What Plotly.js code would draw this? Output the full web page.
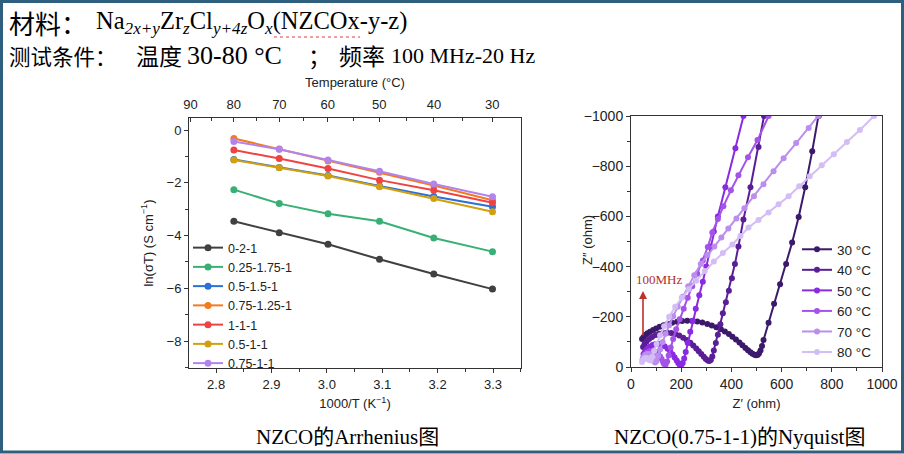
<!DOCTYPE html>
<html>
<head>
<meta charset="utf-8">
<script src="https://cdn.plot.ly/plotly-3.0.1.min.js"></script>
<style>
html,body{margin:0;padding:0;background:#fff;}
#chart{width:904px;height:454px;}
</style>
</head>
<body>
<div id="chart"></div>
<script>
// ---------- Arrhenius data ----------
const tempsC = [80, 70, 60, 50, 40, 30];
const invT = [2.832, 2.914, 3.002, 3.095, 3.193, 3.299];
const seriesNames = ['0-2-1', '0.25-1.75-1', '0.5-1.5-1', '0.75-1.25-1', '1-1-1', '0.5-1-1', '0.75-1-1'];
const ln_0_2_1 = [-3.46, -3.89, -4.33, -4.90, -5.46, -6.03];
const ln_025_175_1 = [-2.26, -2.79, -3.17, -3.46, -4.09, -4.61];
const ln_05_15_1 = [-1.12, -1.42, -1.72, -2.12, -2.52, -2.91];
const ln_075_125_1 = [-0.32, -0.72, -1.17, -1.60, -2.10, -2.66];
const ln_1_1_1 = [-0.76, -1.08, -1.46, -1.90, -2.28, -2.76];
const ln_05_1_1 = [-1.14, -1.43, -1.74, -2.15, -2.60, -3.10];
const ln_075_1_1 = [-0.44, -0.73, -1.14, -1.56, -2.05, -2.53];
const arrColors = ['#404040', '#38b075', '#2c6fd6', '#f47a20', '#ef4343', '#d2a00f', '#b383ec'];

// top axis tick labels (temperature)
const topTickTemps = [90, 80, 70, 60, 50, 40, 30];
const topMinorTemps = [85, 75, 65, 55, 45, 35];

// ---------- Nyquist data (0.75-1-1), Z' and Z'' in ohm ----------
const nyqNames = ['30 °C', '40 °C', '50 °C', '60 °C', '70 °C', '80 °C'];
const nyqColors = ['#3b1a6b', '#5a1e96', '#8a2be2', '#a453e8', '#bb8eee', '#d4bdf5'];
const zre30 = [44,50,58,66,76,88,100,114,130,146,164,184,204,224,244,264,284,304,322,340,358,374,390,404,418,432,444,456,466,476,484,492,498,504,510,516,522,528,548,570,594,618,642,668,694,722,748,752];
const zim30 = [-112,-120,-128,-134,-140,-147,-153,-160,-166,-171,-176,-180,-183,-184,-183,-181,-177,-171,-165,-158,-150,-141,-131,-121,-110,-98,-87,-76,-67,-59,-53,-49,-47,-48,-54,-66,-84,-108,-176,-252,-330,-410,-496,-598,-716,-860,-1000,-1030];
const zre40 = [48,54,62,72,84,98,112,128,144,160,176,192,208,222,236,248,260,270,280,290,298,306,312,318,324,330,338,346,356,366,378,390,402,414,428,448,476,508,530,534];
const zim40 = [-80,-92,-102,-112,-120,-127,-132,-135,-136,-135,-131,-125,-117,-108,-97,-86,-74,-63,-52,-41,-32,-26,-24,-28,-42,-66,-96,-128,-170,-214,-258,-304,-354,-410,-480,-588,-716,-876,-1000,-1030];
const zre50 = [50,56,64,74,86,98,110,122,134,146,156,166,174,182,188,194,200,206,212,218,226,236,246,258,272,286,300,316,330,346,376,416,448,456];
const zim50 = [-52,-62,-72,-81,-88,-92,-93,-90,-83,-73,-62,-50,-38,-26,-16,-9,-8,-16,-34,-60,-96,-140,-184,-232,-286,-340,-400,-480,-540,-600,-716,-872,-1000,-1030];
const zre60 = [50,56,64,74,86,98,108,116,122,128,132,138,144,150,158,168,180,194,210,226,244,264,286,306,324,346,368,398,428,466,504,548,558];
const zim60 = [-40,-50,-58,-63,-64,-60,-52,-42,-32,-20,-12,-10,-22,-46,-78,-112,-150,-190,-232,-276,-322,-372,-424,-478,-536,-590,-640,-704,-764,-836,-904,-1000,-1020];
const zre70 = [46,50,56,64,72,80,86,92,96,102,108,116,126,138,152,168,186,206,228,252,278,304,332,360,388,420,452,490,528,568,608,658,708,746,760];
const zim70 = [-30,-40,-48,-52,-52,-46,-36,-24,-18,-24,-44,-70,-100,-132,-166,-202,-240,-280,-322,-366,-410,-446,-480,-516,-552,-592,-632,-680,-728,-780,-832,-892,-952,-1000,-1018];
const zre80 = [44,48,54,60,66,72,78,84,92,102,116,132,152,176,202,230,260,294,330,366,404,436,468,508,548,588,628,670,712,760,808,860,912,968,990];
const zim80 = [-20,-28,-34,-36,-34,-28,-26,-40,-64,-92,-126,-162,-200,-240,-276,-310,-344,-382,-420,-454,-488,-522,-556,-586,-616,-648,-680,-720,-760,-804,-848,-896,-944,-1000,-1020];

const W = 904, H = 454;
const px = v => v / W;
const py = v => (H - v) / H;

const arrData = [ln_0_2_1, ln_025_175_1, ln_05_15_1, ln_075_125_1, ln_1_1_1, ln_05_1_1, ln_075_1_1];
const traces = [];
arrData.forEach((ys, i) => {
  traces.push({
    type: 'scatter', mode: 'lines+markers', x: invT, y: ys, name: seriesNames[i],
    xaxis: 'x', yaxis: 'y', legend: 'legend',
    line: {color: arrColors[i], width: 2},
    marker: {color: arrColors[i], size: 7}
  });
});
// invisible trace to activate top axis
traces.push({type: 'scatter', mode: 'markers', x: invT, y: ln_0_2_1, xaxis: 'x2', yaxis: 'y',
  showlegend: false, hoverinfo: 'skip', marker: {opacity: 0}});

const nyqRe = [zre30, zre40, zre50, zre60, zre70, zre80];
const nyqIm = [zim30, zim40, zim50, zim60, zim70, zim80];
nyqRe.forEach((xs, i) => {
  traces.push({
    type: 'scatter', mode: 'lines+markers', x: xs, y: nyqIm[i], name: nyqNames[i],
    xaxis: 'x3', yaxis: 'y3', legend: 'legend2',
    line: {color: nyqColors[i], width: 2},
    marker: {color: nyqColors[i], size: 6}
  });
});

const axFont = {family: 'Liberation Sans, Arial, sans-serif', size: 13, color: '#222'};
const xL = [2.751, 3.3505];
const domXL = [px(189), px(521)];
const domYL = [py(368), py(118)];
const domXR = [px(631), px(882)];
const domYR = [py(367), py(116)];

const serif = 'Liberation Serif, Noto Sans CJK SC, serif';
const cjk = 'Noto Sans CJK SC, sans-serif';
function txt(x, y, text, size, family, extra) {
  return Object.assign({xref: 'paper', yref: 'paper', x: px(x), y: py(y), xanchor: 'left', yanchor: 'middle',
    showarrow: false, text: text, font: {family: family, size: size, color: '#000'}}, extra || {});
}

const layout = {
  width: W, height: H,
  margin: {l: 0, r: 0, t: 0, b: 0},
  paper_bgcolor: '#ffffff', plot_bgcolor: '#ffffff',
  font: axFont,
  showlegend: true,
  xaxis: {
    domain: domXL, range: xL, anchor: 'y',
    tickvals: [2.8, 2.9, 3.0, 3.1, 3.2, 3.3], ticktext: ['2.8', '2.9', '3.0', '3.1', '3.2', '3.3'],
    ticks: 'outside', ticklen: 4, tickcolor: '#333', linecolor: '#333', linewidth: 1,
    showline: true, showgrid: false, zeroline: false,
    minor: {dtick: 0.05, tick0: 2.75, ticks: 'outside', ticklen: 3, tickcolor: '#333'},
    tickfont: {size: 13},
    title: {text: '1000/T (K<sup>−1</sup>)', font: {size: 13}, standoff: 8}
  },
  xaxis2: {
    overlaying: 'x', side: 'top', anchor: 'y', range: xL,
    tickmode: 'array',
    tickvals: topTickTemps.map(t => 1000 / (t + 273.15)),
    ticktext: topTickTemps.map(String),
    ticks: 'inside', ticklen: 4, tickcolor: '#333', linecolor: '#333', linewidth: 1,
    showline: true, showgrid: false, zeroline: false,
    minor: {tickmode: 'array', tickvals: topMinorTemps.map(t => 1000 / (t + 273.15)), ticks: 'inside', ticklen: 3, tickcolor: '#333'},
    tickfont: {size: 13}, ticklabelstandoff: 3,
    title: {text: 'Temperature (°C)', font: {size: 13}, standoff: 6}
  },
  yaxis: {
    domain: domYL, range: [-9.02, 0.455], anchor: 'x',
    tickvals: [-8, -6, -4, -2, 0],
    ticks: 'outside', ticklen: 4, tickcolor: '#333', linecolor: '#333', linewidth: 1,
    showline: true, mirror: true, showgrid: false, zeroline: false,
    minor: {dtick: 1, tick0: 0, ticks: 'outside', ticklen: 3, tickcolor: '#333'},
    tickfont: {size: 13},
    title: {text: 'ln(σT) (S cm<sup>−1</sup>)', font: {size: 13}, standoff: 10}
  },
  xaxis3: {
    domain: domXR, range: [0, 1000], anchor: 'y3',
    tickvals: [0, 200, 400, 600, 800, 1000],
    ticks: 'outside', ticklen: 4, tickcolor: '#333', linecolor: '#333', linewidth: 1,
    showline: true, mirror: true, showgrid: false, zeroline: false,
    minor: {dtick: 100, tick0: 0, ticks: 'outside', ticklen: 3, tickcolor: '#333'},
    tickfont: {size: 14},
    title: {text: 'Z′ (ohm)', font: {size: 13}, standoff: 8}
  },
  yaxis3: {
    domain: domYR, range: [0, -1000], anchor: 'x3',
    tickvals: [-1000, -800, -600, -400, -200, 0],
    ticks: 'outside', ticklen: 4, tickcolor: '#333', linecolor: '#333', linewidth: 1,
    showline: true, mirror: true, showgrid: false, zeroline: false,
    minor: {dtick: 100, tick0: 0, ticks: 'outside', ticklen: 3, tickcolor: '#333'},
    tickfont: {size: 14}
  },
  legend: {
    x: px(188), y: py(233), xanchor: 'left', yanchor: 'top',
    bgcolor: 'rgba(0,0,0,0)', font: {size: 12.5, color: '#222'},
    itemwidth: 30, tracegroupgap: 0
  },
  legend2: {
    x: px(797), y: py(234), xanchor: 'left', yanchor: 'top',
    bgcolor: 'rgba(0,0,0,0)', font: {size: 13.5, color: '#222'},
    itemwidth: 30, tracegroupgap: 0
  },
  annotations: [
    txt(7, 22, '材料：', 26, cjk),
    txt(94, 22, 'Na<sub><i>2x+y</i></sub>Zr<sub><i>z</i></sub>Cl<sub><i>y+4z</i></sub>O<sub><i>x</i></sub>(NZCOx-y-z)', 24.5, serif),
    txt(7, 55, '测试条件：', 21.5, cjk),
    txt(134, 55, '温度', 23, cjk),
    txt(185, 55, '30-80 °C', 26, serif),
    txt(306, 55, '；', 23, cjk),
    txt(337, 55, '频率', 23, cjk),
    txt(389, 55, '100 MHz-20 Hz', 22, serif),
    txt(347, 437, 'NZCO的Arrhenius图', 21, serif, {xanchor: 'center'}),
    txt(739, 437, 'NZCO(0.75-1-1)的Nyquist图', 21, serif, {xanchor: 'center'}),
    txt(587, 240, 'Z″ (ohm)', 13, 'Liberation Sans, Arial, sans-serif', {xanchor: 'center', textangle: -90, font: {family: 'Liberation Sans, Arial, sans-serif', size: 13, color: '#222'}}),
    txt(659, 279, '100MHz', 13, 'Liberation Serif, serif', {xanchor: 'center', font: {family: 'Liberation Serif, serif', size: 13, color: '#b0302a'}}),
    {xref: 'paper', yref: 'paper', x: px(643), y: py(291), showarrow: true, text: '',
     ax: 0, ay: 46, arrowhead: 2, arrowsize: 1, arrowwidth: 1.6, arrowcolor: '#c0302a'}
  ],
  shapes: [
    {type: 'rect', xref: 'paper', yref: 'paper', x0: px(1.5), x1: px(902.5), y0: py(452), y1: py(1.5),
     line: {color: '#2e5f7e', width: 3}, fillcolor: 'rgba(0,0,0,0)'},
    {type: 'line', xref: 'paper', yref: 'paper', x0: px(274), x1: px(360), y0: py(37), y1: py(37),
     line: {color: '#e04040', width: 1.2, dash: 'dot'}}
  ]
};

Plotly.newPlot('chart', traces, layout, {displayModeBar: false, staticPlot: true});
</script>
</body>
</html>
